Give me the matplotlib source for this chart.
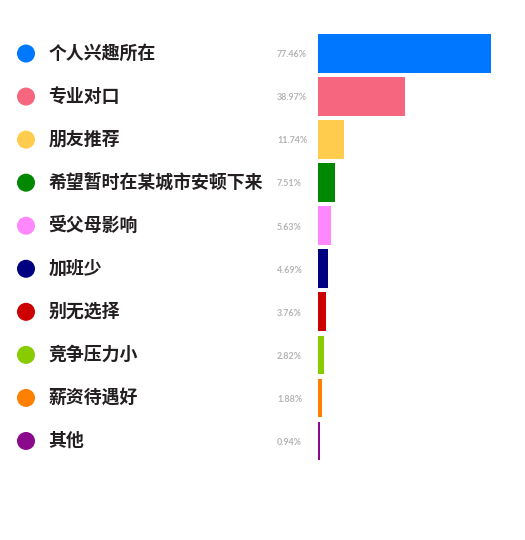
import matplotlib
matplotlib.use("Agg")
import matplotlib.pyplot as plt
import matplotlib.transforms as mtransforms

plt.rcParams['font.family'] = ['Noto Sans CJK SC', 'DejaVu Sans']

categories = ["个人兴趣所在", "专业对口", "朋友推荐", "希望暂时在某城市安顿下来", "受父母影响",
              "加班少", "别无选择", "竞争压力小", "薪资待遇好", "其他"]
values = [77.46, 38.97, 11.74, 7.51, 5.63, 4.69, 3.76, 2.82, 1.88, 0.94]
labels = ["77.46%", "38.97%", "11.74%", "7.51%", "5.63%", "4.69%", "3.76%", "2.82%", "1.88%", "0.94%"]
colors = ["#0077ff", "#f7667f", "#ffcc4d", "#008800", "#ff88ff", "#000080",
          "#cc0000", "#88cc00", "#ff7f00", "#8b0a8b"]

W, H = 525, 540
fig = plt.figure(figsize=(W / 100, H / 100), dpi=100)
ax = fig.add_axes([318 / W, (H - 462.5) / H, 173 / W, 430.5 / H])
ypos = list(range(len(values)))
ax.barh(ypos, values, height=0.9, color=colors, edgecolor='none')
ax.set_xlim(0, max(values))
ax.set_ylim(len(values) - 0.5, -0.5)
ax.axis('off')

trans = mtransforms.blended_transform_factory(fig.transFigure, ax.transData)
ax.scatter([26 / W] * len(values), ypos, s=168, c=colors, transform=trans,
           clip_on=False, linewidths=0)
for y, cat, lab in zip(ypos, categories, labels):
    ax.text(48.5 / W, y, cat, transform=trans, ha='left', va='center',
            fontsize=12.9, fontweight=900, color='#231f20', clip_on=False)
    ax.text(277 / W, y + 0.03, lab, transform=trans, ha='left', va='center',
            fontsize=6.4, fontweight='bold', color='#b3b3b3', clip_on=False,
            family=['Lato', 'DejaVu Sans'])

fig.savefig("out.png", dpi=100)
